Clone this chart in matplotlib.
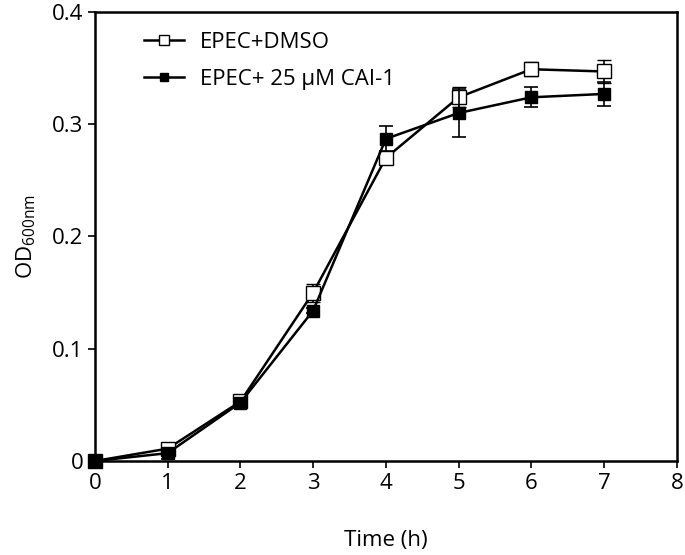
import matplotlib.pyplot as plt
import numpy as np

plt.rcParams['font.family'] = ['Open Sans', 'DejaVu Sans']
plt.rcParams['mathtext.fontset'] = 'custom'
plt.rcParams['mathtext.rm'] = 'Open Sans'

hours = [0, 1, 2, 3, 4, 5, 6, 7]
dmso = [0.0, 0.011, 0.053, 0.150, 0.270, 0.324, 0.349, 0.347]
dmso_err = [0.002, 0.004, 0.003, 0.008, 0.005, 0.009, 0.006, 0.010]
cai1 = [0.0, 0.007, 0.052, 0.134, 0.287, 0.310, 0.324, 0.327]
cai1_err = [0.002, 0.005, 0.003, 0.002, 0.011, 0.021, 0.009, 0.011]

fig = plt.figure(figsize=(6.85, 5.55), dpi=100)
ax = fig.add_axes([0.1387, 0.1694, 0.8493, 0.8090])

c1 = ax.errorbar(hours, dmso, yerr=dmso_err, color='black', linewidth=1.8,
                 marker='s', markersize=9.5, markerfacecolor='white',
                 markeredgecolor='black', markeredgewidth=1.0,
                 capsize=5, elinewidth=1.2, capthick=1.2, clip_on=False,
                 label='EPEC+DMSO', zorder=3)
c2 = ax.errorbar(hours, cai1, yerr=cai1_err, color='black', linewidth=1.8,
                 marker='s', markersize=8, markerfacecolor='black',
                 markeredgecolor='black', capsize=5, elinewidth=1.2,
                 capthick=1.2, clip_on=False,
                 label='EPEC+ 25 \u03bcM CAI-1', zorder=4)

ax.set_xlim(0, 8)
ax.set_ylim(0, 0.4)
ax.set_xticks(range(0, 9))
ax.set_yticks([0, 0.1, 0.2, 0.3, 0.4])
ax.set_yticklabels(['0', '0.1', '0.2', '0.3', '0.4'])
ax.tick_params(direction='out', length=5, width=1.2, labelsize=16)
for s in ax.spines.values():
    s.set_linewidth(1.8)

ax.set_xlabel('Time (h)', fontsize=16, labelpad=26)
ax.set_ylabel(r'OD$_{\mathregular{600nm}}$', fontsize=16, labelpad=10)

ax.legend(handles=[c1[0], c2[0]], labels=['EPEC+DMSO', 'EPEC+ 25 \u03bcM CAI-1'],
          loc='upper left', bbox_to_anchor=(0.05, 1.0), frameon=False,
          fontsize=16, handlelength=1.8, labelspacing=0.7, markerscale=0.8,
          handletextpad=0.7)

plt.savefig('out.png', dpi=100)
